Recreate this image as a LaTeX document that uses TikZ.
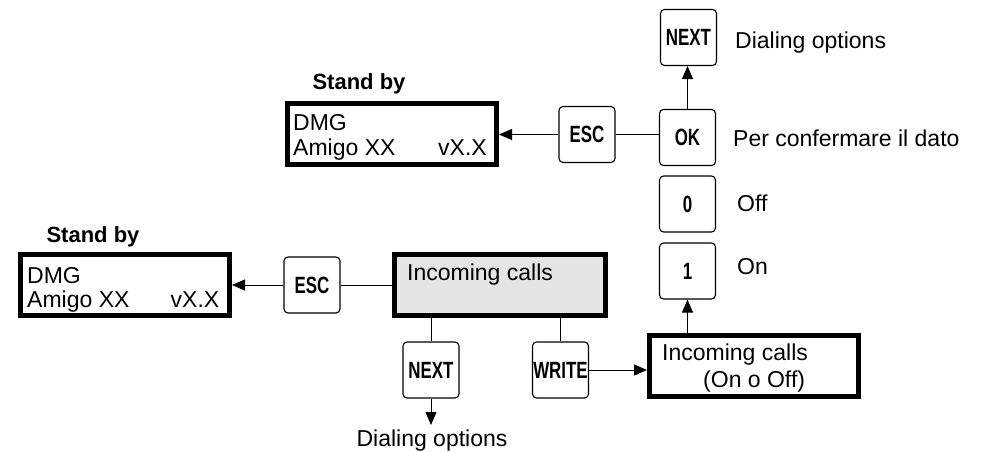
\documentclass[tikz,border=0pt]{standalone}
\usepackage{fontspec}
\setmainfont{Liberation Sans}
\usepackage{graphicx}
\usetikzlibrary{arrows.meta}
\newcommand\kt[1]{\scalebox{0.72}[1]{#1}}
\begin{document}
\begin{tikzpicture}[x=1pt,y=-1pt,
 disp/.style={draw, line width=5pt, minimum width=209pt, minimum height=61pt, inner sep=0pt},
 graydisp/.style={disp, fill=black!10, minimum width=211pt},
 key/.style={draw, line width=1.1pt, rounded corners=4pt, minimum width=56pt, minimum height=56pt, inner sep=0pt, font=\bfseries\fontsize{23.5}{25}\selectfont},
 lbl/.style={font=\fontsize{23}{26}\selectfont, inner sep=0pt},
 hdr/.style={font=\bfseries\fontsize{22}{24}\selectfont, inner sep=0pt},
 conn/.style={line width=1pt},
 arr/.style={line width=1pt, -{Triangle[length=13pt,width=11pt]}},
]
\useasboundingbox (0,0) rectangle (987,451);

% ---------- top part ----------
\node[hdr] (st1) at (359,84) {Stand by};
\node[disp] (disp1) at (392,134) {};
\node[lbl, anchor=base west] (d1a) at (293,130) {DMG};
\node[lbl, anchor=base west] (d1b) at (293,155) {Amigo XX};
\node[lbl, anchor=base east] (d1c) at (487,155) {vX.X};

\node[key] (esc1) at (587,134.5) {\kt{ESC}};
\node[key] (ok) at (687.5,137.5) {\kt{OK}};
\node[key] (next1) at (688.5,37.5) {\kt{NEXT}};
\node[key] (zero) at (687.5,204) {\kt{0}};
\node[key] (one) at (687.5,271) {\kt{1}};

\node[lbl, anchor=base west] (l1) at (735,48) {Dialing options};
\node[lbl, anchor=base west] (l2) at (733,146) {Per confermare il dato};
\node[lbl, anchor=base west] (l3) at (737,211.5) {Off};
\node[lbl, anchor=base west] (l4) at (737,274.5) {On};

\draw[arr] (esc1.west) -- (esc1.west -| disp1.east);
\draw[conn] (esc1.east) -- (esc1.east -| ok.west);
\draw[arr] (ok.north) -- (ok.north |- next1.south);

% ---------- bottom part ----------
\node[hdr] (st2) at (93,237) {Stand by};
\node[disp] (disp2) at (125,285) {};
\node[lbl, anchor=base west] (d2a) at (27,283) {DMG};
\node[lbl, anchor=base west] (d2b) at (27,307) {Amigo XX};
\node[lbl, anchor=base east] (d2c) at (219.5,307) {vX.X};

\node[key] (esc2) at (312,285) {\kt{ESC}};
\node[graydisp] (inc) at (499.7,285) {};
\node[lbl, anchor=base west] (inct) at (407,280) {Incoming calls};

\node[key] (next2) at (431,370) {\kt{NEXT}};
\node[key] (write) at (560.5,370) {\kt{WRITE}};
\coordinate (dend) at (431,425);
\node[lbl, anchor=base] (dial2) at (432,446) {Dialing options};

\node[disp] (inc2) at (754,366) {};
\node[lbl, anchor=base west] (inc2a) at (662,360) {Incoming calls};
\node[lbl, anchor=base west] (inc2b) at (703,387) {(On o Off)};

\draw[arr] (esc2.west) -- (esc2.west -| disp2.east);
\draw[conn] (esc2.east) -- (esc2.east -| inc.west);
\draw[conn] (inc.south -| next2.north) -- (next2.north);
\draw[conn] (inc.south -| write.north) -- (write.north);
\draw[arr] (next2.south) -- (dend);
\draw[arr] (write.east) -- (write.east -| inc2.west);
\draw[arr] (one.south |- inc2.north) -- (one.south);
\end{tikzpicture}
\end{document}
